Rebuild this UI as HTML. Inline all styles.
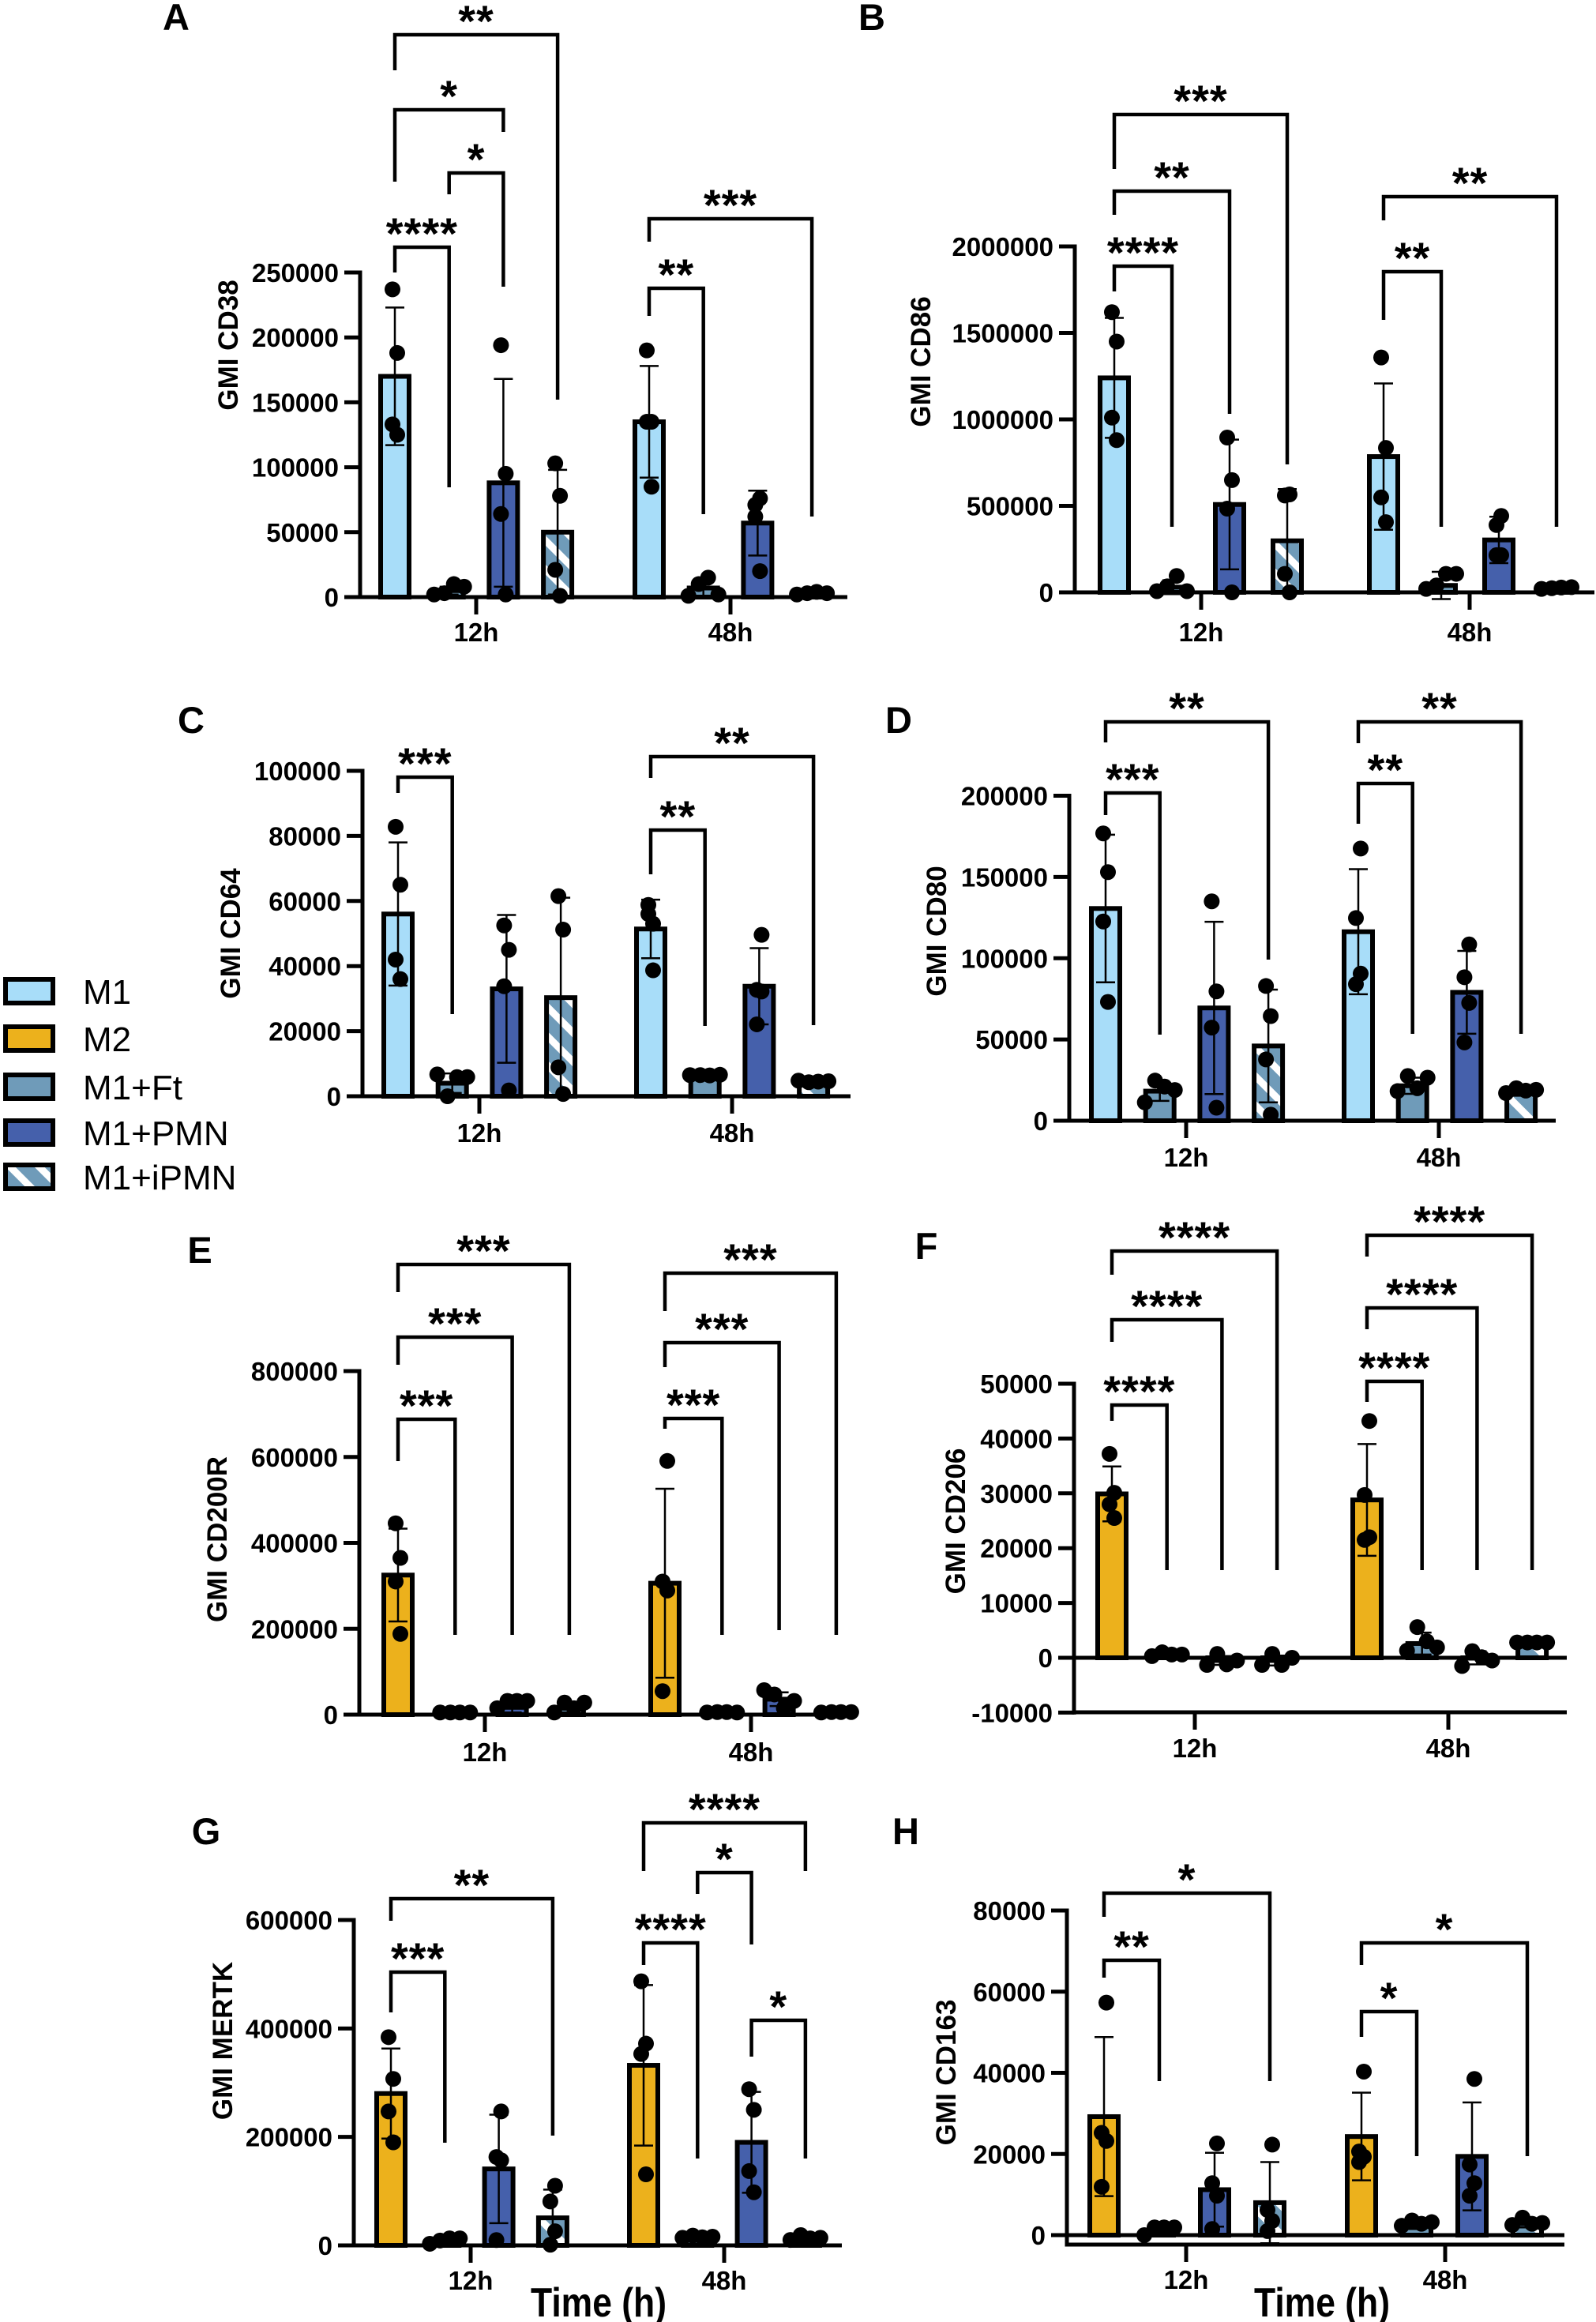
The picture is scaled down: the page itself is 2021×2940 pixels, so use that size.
<!DOCTYPE html>
<html><head><meta charset="utf-8"><title>GMI marker panels</title>
<style>
html,body{margin:0;padding:0;background:#fff;}
svg{display:block;font-family:"Liberation Sans",Arial,sans-serif;}
.tk{font-size:33px;font-weight:bold;text-anchor:end;}
.xl{font-size:33px;font-weight:bold;text-anchor:middle;}
.yt{font-size:35px;font-weight:bold;text-anchor:middle;}
.st{font-size:56px;font-weight:bold;text-anchor:middle;letter-spacing:1px;}
.pl{font-size:47px;font-weight:bold;text-anchor:middle;}
.lg{font-size:44px;}
.tm{font-size:52px;font-weight:bold;text-anchor:middle;}
</style></head>
<body>
<svg id="fig" xmlns="http://www.w3.org/2000/svg" width="2021" height="2940" viewBox="0 0 2021 2940">
<defs>
<pattern id="hatch" patternUnits="userSpaceOnUse" width="26" height="26" patternTransform="rotate(-45)">
<rect width="26" height="26" fill="#6f9bb9"/>
<rect x="0" y="0" width="9" height="26" fill="#ffffff"/>
</pattern>
</defs>
<rect width="2021" height="2940" fill="#fff"/>
<g id="legend">
<g><rect x="7" y="1240" width="60" height="30" fill="#a8ddf9" stroke="#000" stroke-width="6"/><text class="lg" x="105" y="1271">M1</text></g>
<g><rect x="7" y="1300" width="60" height="30" fill="#ecb11c" stroke="#000" stroke-width="6"/><text class="lg" x="105" y="1331">M2</text></g>
<g><rect x="7" y="1361" width="60" height="30" fill="#6f9bb9" stroke="#000" stroke-width="6"/><text class="lg" x="105" y="1392">M1+Ft</text></g>
<g><rect x="7" y="1419" width="60" height="30" fill="#4560ab" stroke="#000" stroke-width="6"/><text class="lg" x="105" y="1450">M1+PMN</text></g>
<g><rect x="7" y="1475" width="60" height="30" fill="url(#hatch)" stroke="#000" stroke-width="6"/><text class="lg" x="105" y="1506">M1+iPMN</text></g>
</g>
<text class="tm" x="758" y="2933" textLength="172" lengthAdjust="spacingAndGlyphs">Time (h)</text>
<text class="tm" x="1674" y="2933" textLength="172" lengthAdjust="spacingAndGlyphs">Time (h)</text>
</svg>
<script>
// ---- data (group order: 12h g1..g4, 48h g1..g4) ----
const groupsTop = ["M1","M1+Ft","M1+PMN","M1+iPMN","M1","M1+Ft","M1+PMN","M1+iPMN"];
const groupsBottom = ["M2","M1+Ft","M1+PMN","M1+iPMN","M2","M1+Ft","M1+PMN","M1+iPMN"];
const timeLabels = ["12h","48h"];

const aMeans = [170000,5000,88000,50000,135000,7000,57000,3000];
const aSd = [53000,3000,80000,48000,43000,6000,25000,1000];
const aPts = [[237000,188000,133000,125000],[2000,3000,10000,8000],[194000,95000,64000,2000],[103000,78000,21000,1000],[190000,135000,135000,85000],[1000,10000,15000,2000],[71000,76000,62000,20000],[2000,3000,4000,3000]];
const aTicks = [0,50000,100000,150000,200000,250000];

const bMeans = [1240000,30000,508000,298000,785000,40000,303000,24000];
const bSd = [347000,40000,375000,299000,423000,79000,134000,10000];
const bPts = [[1620000,1450000,1010000,880000],[7000,35000,95000,7000],[895000,649000,484000,0],[560000,566000,107000,0],[1358000,835000,549000,406000],[20000,40000,107000,107000],[389000,215000,215000,442000],[20000,24000,28000,30000]];
const bTicks = [0,500000,1000000,1500000,2000000];

const cMeans = [56000,4000,33000,30300,51400,6200,33800,4300];
const cSd = [22000,3000,22700,30700,9000,700,11700,800];
const cPts = [[82800,65000,42000,36000],[6700,0,5900,5900],[52500,45000,33800,1800],[61500,51200,8900,700],[56000,53000,58800,38700],[6500,6500,6400,6600],[32700,49600,22100,32200],[4800,4300,4500,4600]];
const cTicks = [0,20000,40000,60000,80000,100000];

const dMeans = [130600,18200,69400,46000,116300,21500,79000,17400];
const dSd = [45400,6000,53000,34700,38500,5000,25500,2000];
const dPts = [[176800,153000,122600,73100],[11300,24700,21000,18900],[135000,79600,57300,8000],[82900,64400,37700,3700],[84000,167500,124700,90500],[18200,27500,20000,26500],[48200,108500,88300,72500],[17000,20000,18500,19000]];
const dTicks = [0,50000,100000,150000,200000];

const eMeans = [325000,6700,17000,15000,306000,6700,36000,6700];
const eSd = [108000,1000,12000,10000,220000,1000,16000,1000];
const ePts = [[445600,365000,310000,188000],[5000,5000,5000,5000],[15000,32000,32000,32000],[5000,28000,15000,28000],[310000,590700,54800,289000],[5000,6000,6000,5000],[57000,47000,15000,32000],[5000,6000,6000,6000]];
const eTicks = [0,200000,400000,600000,800000];

const fMeans = [29900,500,-500,-500,28800,2600,0,2800];
const fSd = [5000,400,800,900,10200,2000,1200,200];
const fPts = [[37200,30100,28000,25500],[300,1000,600,600],[-1300,700,-1200,-500],[-1300,700,-1300,0],[21500,43200,29700,22000],[1300,5600,3000,1900],[-1500,1200,100,-500],[2800,2800,2800,2800]];
const fTicks = [-10000,0,10000,20000,30000,40000,50000];

const gMeans = [280000,9800,141000,50800,332000,13000,190000,9800];
const gSd = [83000,4500,100000,52000,148000,3500,93000,4000];
const gPts = [[384000,307000,247000,190000],[3000,9000,13000,13000],[163000,247000,9800,157000],[1300,110000,81000,26000],[487000,372000,353000,131000],[14000,18000,15000,16000],[288000,250000,137000,98000],[10000,19000,13000,14000]];
const gTicks = [0,200000,400000,600000];

const hMeans = [29200,1200,11200,8000,24300,2300,19400,2800];
const hSd = [19600,800,9100,10000,10800,800,13300,900];
const hPts = [[25200,57300,11900,23200],[0,1900,1900,1900],[1500,22600,12800,9700],[1000,22300,6200,3500],[18000,40300,20600,19300],[2300,3600,2800,3200],[9700,38500,17400,12800],[2500,4300,2800,3000]];
const hTicks = [0,20000,40000,60000,80000];

// significance labels per panel
const aSig = ["**","*","*","****","***","**"];
const bSig = ["***","**","****","**","**"];
const cSig = ["***","**","**"];
const dSig = ["**","***","**","**"];
const eSig = ["***","***","***","***","***","***"];
const fSig = ["****","****","****","****","****","****"];
const gSig = ["**","***","****","*","****","*"];
const hSig = ["*","**","*","*"];

// ---- layout ----
const fills = {"M1":"#a8ddf9","M2":"#ecb11c","M1+Ft":"#6f9bb9","M1+PMN":"#4560ab","M1+iPMN":"url(#hatch)"};
const NS = "http://www.w3.org/2000/svg";
const svg = document.getElementById('fig');
function mk(parent, tag, attrs){
  const el = document.createElementNS(NS, tag);
  for (const k in attrs) el.setAttribute(k, attrs[k]);
  parent.appendChild(el);
  return el;
}

// brackets: [leftGroup, rightGroup, topY, leftDropY, rightDropY]
const layouts = [
 {id:'a',letter:'A',lx:223,ly:21,title:'GMI CD38',tx:288,ty:437,axisX:456,y0:756,yTopPix:345,yTopVal:250000,xAxisY:756,xEnd:1073,t12:603,t48:925,labY:800,first:500,step:68.7,second:822,groups:groupsTop,means:aMeans,sd:aSd,pts:aPts,ticks:aTicks,sig:aSig,
  br:[[0,3,44,89,506],[0,2,139,230,167],[1,2,219,246,363],[0,1,313,345,617],[4,7,277,306,654],[4,5,365,400,651]]},
 {id:'b',letter:'B',lx:1104,ly:21,title:'GMI CD86',tx:1165,ty:458,axisX:1361,y0:750,yTopPix:312,yTopVal:2000000,xAxisY:750,xEnd:2019,t12:1521,t48:1861,labY:800,first:1411,step:73,second:1752,groups:groupsTop,means:bMeans,sd:bSd,pts:bPts,ticks:bTicks,sig:bSig,
  br:[[0,3,145,214,588],[0,2,242,272,524],[0,1,337,369,667],[4,7,249,279,667],[4,5,344,405,667]]},
 {id:'c',letter:'C',lx:242,ly:911,title:'GMI CD64',tx:291,ty:1182,axisX:459,y0:1388,yTopPix:976,yTopVal:100000,xAxisY:1388,xEnd:1077,t12:607,t48:927,labY:1434,first:504,step:68.7,second:824,groups:groupsTop,means:cMeans,sd:cSd,pts:cPts,ticks:cTicks,sig:cSig,
  br:[[0,1,984,1004,1284],[4,7,958,985,1298],[4,5,1051,1107,1299]]},
 {id:'d',letter:'D',lx:1138,ly:911,title:'GMI CD80',tx:1185,ty:1179,axisX:1354,y0:1419,yTopPix:1007.5,yTopVal:200000,xAxisY:1419,xEnd:1970,t12:1502,t48:1822,labY:1465,first:1400,step:68.7,second:1720,groups:groupsTop,means:dMeans,sd:dSd,pts:dPts,ticks:dTicks,sig:dSig,
  br:[[0,3,914,940,1215],[0,1,1004,1032,1310],[4,7,914,941,1309],[4,5,992,1043,1309]]},
 {id:'e',letter:'E',lx:253,ly:1582,title:'GMI CD200R',tx:274,ty:1949,axisX:455,y0:2171,yTopPix:1736,yTopVal:800000,xAxisY:2171,xEnd:1082,t12:614,t48:951,labY:2218,first:504,step:72.3,second:842,groups:groupsBottom,means:eMeans,sd:eSd,pts:ePts,ticks:eTicks,sig:eSig,
  br:[[0,3,1601,1636,2070],[0,2,1693,1728,2070],[0,1,1797,1850,2070],[4,7,1612,1660,2070],[4,6,1700,1731,2064],[4,5,1796,1809,2070]]},
 {id:'f',letter:'F',lx:1173,ly:1577,title:'GMI CD206',tx:1209,ty:1926,axisX:1360,y0:2099,yTopPix:1752,yTopVal:50000,xAxisY:2168,zeroLine:true,xEnd:1984,t12:1513,t48:1834,labY:2213,first:1408,step:69.7,second:1731,groups:groupsBottom,means:fMeans,sd:fSd,pts:fPts,ticks:fTicks,sig:fSig,
  br:[[0,3,1584,1614,1988],[0,2,1671,1699,1988],[0,1,1779,1799,1988],[4,7,1564,1591,1988],[4,6,1656,1683,1988],[4,5,1749,1775,1988]]},
 {id:'g',letter:'G',lx:261,ly:2318,title:'GMI MERTK',tx:281,ty:2584,axisX:448,y0:2843,yTopPix:2431,yTopVal:600000,xAxisY:2843,xEnd:1066,t12:596,t48:917,labY:2887,first:495,step:68.3,second:815,groups:groupsBottom,means:gMeans,sd:gSd,pts:gPts,ticks:gTicks,sig:gSig,
  br:[[0,3,2404,2432,2704],[0,1,2497,2548,2713],[4,7,2308,2369,2369],[5,6,2371,2398,2462],[4,5,2460,2488,2733],[6,7,2558,2604,2733]]},
 {id:'h',letter:'H',lx:1147,ly:2318,title:'GMI CD163',tx:1197,ty:2624,axisX:1351,y0:2830,yTopPix:2419,yTopVal:80000,xAxisY:2842,zeroLine:true,xEnd:1981,t12:1502,t48:1830,labY:2886,first:1398,step:70,second:1724,groups:groupsBottom,means:hMeans,sd:hSd,pts:hPts,ticks:hTicks,sig:hSig,
  br:[[0,3,2397,2427,2635],[0,1,2482,2504,2635],[4,7,2460,2488,2730],[4,5,2547,2579,2730]]}
];

layouts.forEach(function(L){
  const g = mk(svg,'g',{});
  
  
  const y = v => L.y0 - v * (L.y0 - L.yTopPix) / L.yTopVal;
  const bx = i => i < 4 ? L.first + i * L.step : L.second + (i - 4) * L.step;

  const letter = mk(g,'text',{class:'pl',x:L.lx,y:L.ly+17});
  letter.textContent = L.letter;
  
  

  const yt = mk(g,'text',{class:'yt',x:L.tx,y:L.ty,transform:'rotate(-90 '+L.tx+' '+L.ty+')',dy:'13'});
  yt.textContent = L.title;
  
  

  const maxT = L.ticks[L.ticks.length-1], minT = L.ticks[0];
  const yAxis = mk(g,'line',{x1:L.axisX,x2:L.axisX,y1:y(maxT)-2.5,y2:Math.max(L.xAxisY, y(minT))+2.5,stroke:'#000','stroke-width':5});
  
  
  L.ticks.forEach(function(t){
    const tl = mk(g,'line',{x1:L.axisX-20,x2:L.axisX,y1:y(t),y2:y(t),stroke:'#000','stroke-width':5});
    
    
    const tx = mk(g,'text',{class:'tk',x:L.axisX-27,y:y(t)+12});
    tx.textContent = String(t);
    
    
  });
  const xAxis = mk(g,'line',{x1:L.axisX-2.5,x2:L.xEnd,y1:L.xAxisY,y2:L.xAxisY,stroke:'#000','stroke-width':5});
  
  
  if (L.zeroLine) {
    const z = mk(g,'line',{x1:L.axisX-2.5,x2:L.xEnd,y1:y(0),y2:y(0),stroke:'#000','stroke-width':5});
    
    
  }
  [L.t12, L.t48].forEach(function(tx, k){
    const tl = mk(g,'line',{x1:tx,x2:tx,y1:L.xAxisY,y2:L.xAxisY+22,stroke:'#000','stroke-width':5});
    
    
    const lb = mk(g,'text',{class:'xl',x:tx,y:L.labY+12});
    lb.textContent = timeLabels[k];
    
    
  });

  L.means.forEach(function(m, i){
    const cx = bx(i), top = Math.min(y(m), y(0)), h = Math.abs(y(m) - y(0));
    const r = mk(g,'rect',{x:cx-18,y:top,width:36,height:Math.max(h,0.5),fill:fills[L.groups[i]],stroke:'#000','stroke-width':6});
    
    
  });
  L.means.forEach(function(m, i){
    const cx = bx(i), hi = y(m + L.sd[i]), lo = y(m - L.sd[i]);
    const e = mk(g,'path',{d:'M'+cx+' '+hi+'V'+lo+'M'+(cx-12)+' '+hi+'H'+(cx+12)+'M'+(cx-12)+' '+lo+'H'+(cx+12),stroke:'#000','stroke-width':2.5,fill:'none'});
    
    
  });
  L.pts.forEach(function(arr, i){
    const mx = Math.max.apply(null, arr), mn = Math.min.apply(null, arr);
    const spread = (mx - mn) < 0.1 * L.yTopVal;
    const offs = spread ? [-19,-6,6,19] : [-3,3,-3,3];
    arr.forEach(function(v, k){
      const c = mk(g,'circle',{cx:bx(i)+offs[k],cy:y(v),r:10,fill:'#000'});
      
      
    });
  });
  L.br.forEach(function(b, k){
    const x1 = bx(b[0]), x2 = bx(b[1]);
    const p = mk(g,'path',{d:'M'+x1+' '+b[3]+'V'+b[2]+'H'+x2+'V'+b[4],stroke:'#000','stroke-width':4.5,fill:'none'});
    
    
    const t = mk(g,'text',{class:'st',x:(x1+x2)/2,y:b[2]+2});
    t.textContent = L.sig[k];
    
    
  });
});
</script>
</body></html>
